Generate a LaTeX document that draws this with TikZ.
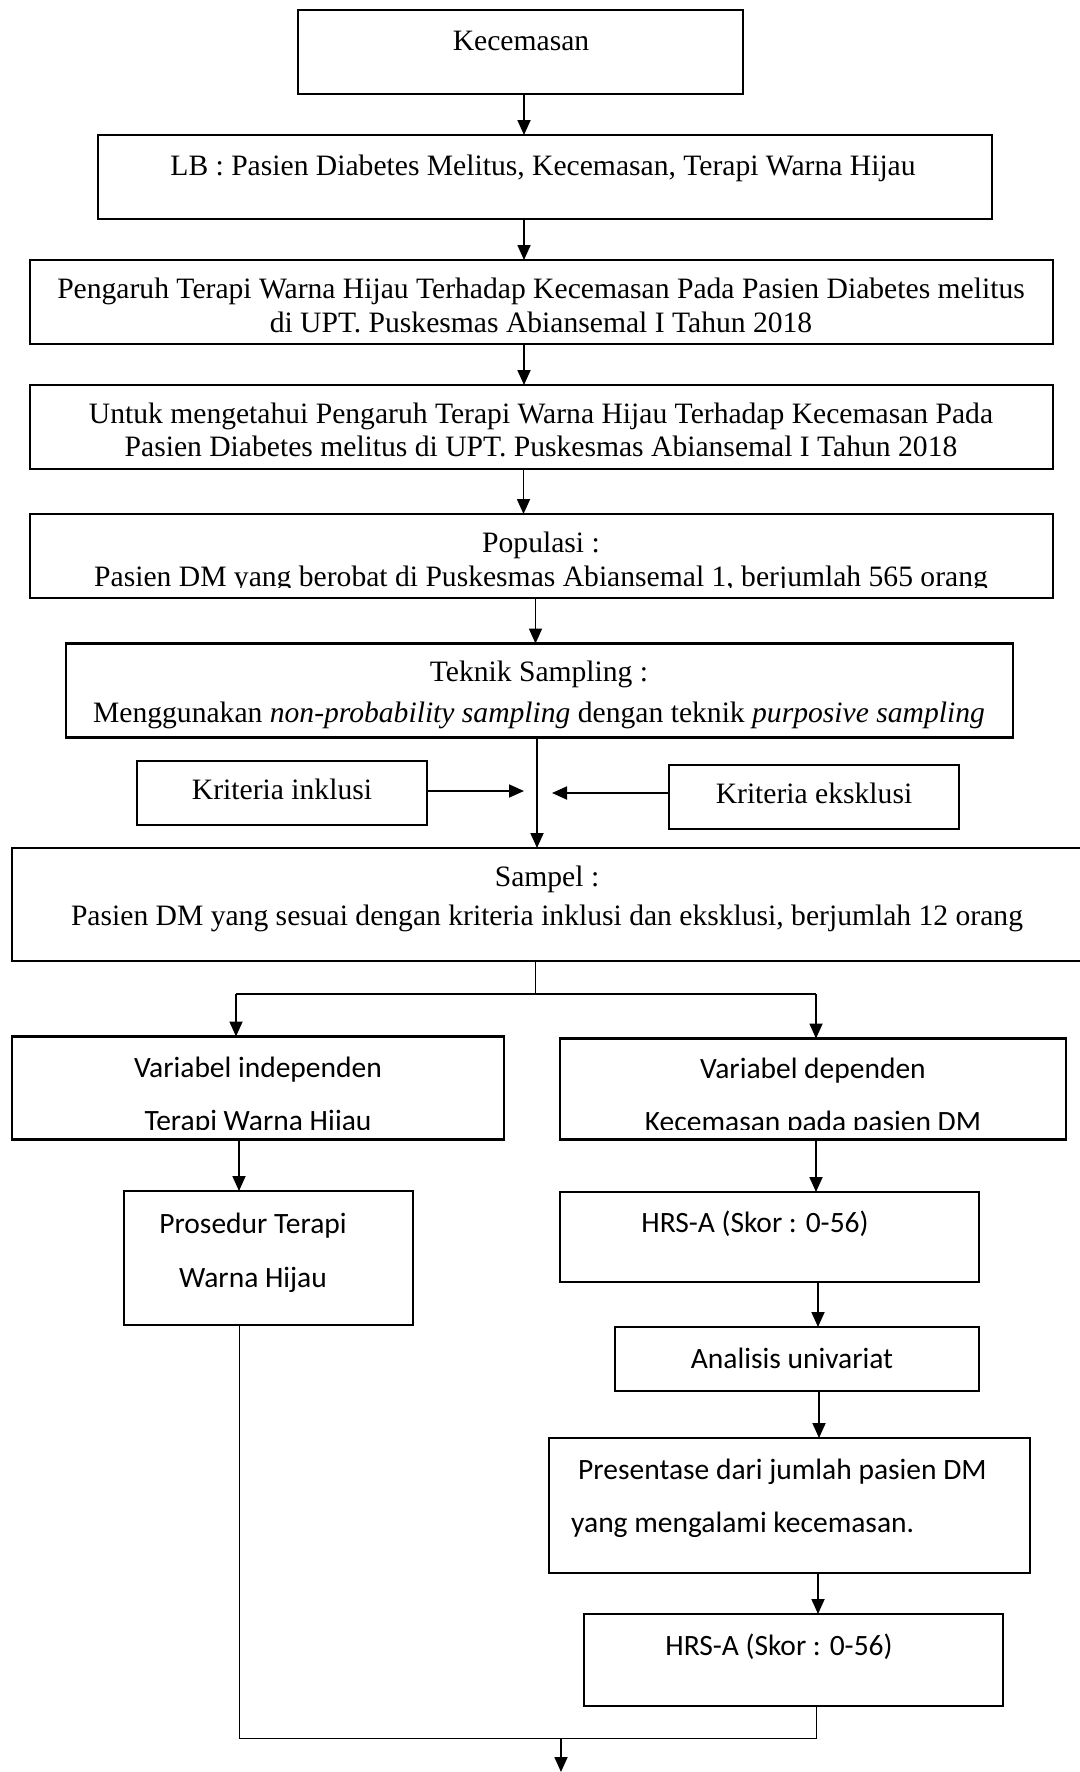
\documentclass[tikz,border=0pt]{standalone}
\usepackage{fontspec}
\setmainfont{Liberation Serif}
\newfontfamily\calfont{Carlito}
\usetikzlibrary{arrows.meta}
\begin{document}
\begin{tikzpicture}[x=1pt,y=-1pt,
  box/.style={draw, line width=2.3pt, inner sep=0pt, outer sep=0pt},
  tr/.style={anchor=base, inner sep=0pt, font=\fontsize{29.6}{34}\selectfont},
  ca/.style={anchor=base, inner sep=0pt, font=\calfont\fontsize{29.5}{34}\selectfont},
  caw/.style={anchor=base west, inner sep=0pt, font=\calfont\fontsize{29.5}{34}\selectfont},
  arr/.style={line width=1.8pt, -{Triangle[length=15pt,width=13pt]}},
  thinline/.style={line width=1pt}]
\useasboundingbox (0,0) rectangle (1079,1772);
\fill[white] (0,0) rectangle (1079,1772);

% boxes
\node[box, minimum width=445, minimum height=84] (kec) at (520.5,52) {};
\node[box, minimum width=894, minimum height=84] (lb) at (545,177) {};
\node[box, minimum width=1023, minimum height=84] (peng) at (541.5,302) {};
\node[box, minimum width=1023, minimum height=84] (untuk) at (541.5,427) {};
\node[box, minimum width=1023, minimum height=84] (pop) at (541.5,556) {};
\node[box, minimum width=947, minimum height=94] (tek) at (539.5,690.5) {};
\node[box, minimum width=290, minimum height=64] (inkl) at (282,793) {};
\node[box, minimum width=290, minimum height=64] (eksk) at (814,797) {};
\node[box, minimum width=1070, minimum height=113] (samp) at (547,904.5) {};
\node[box, minimum width=492, minimum height=103] (indep) at (258,1088) {};
\node[box, minimum width=506, minimum height=101] (dep) at (813,1089) {};
\node[box, minimum width=289, minimum height=134] (pros) at (268.5,1258) {};
\node[box, minimum width=419, minimum height=90] (hrsa) at (769.5,1237) {};
\node[box, minimum width=364, minimum height=64] (anal) at (797,1359) {};
\node[box, minimum width=481, minimum height=135] (pres) at (789.5,1505.5) {};
\node[box, minimum width=419, minimum height=92] (hrsb) at (793.5,1660) {};

% texts
\node[tr] (tkec) at (521,50) {Kecemasan};
\node[tr] (tlb) at (543,175) {LB : Pasien Diabetes Melitus, Kecemasan, Terapi Warna Hijau};
\node[tr] (tpeng1) at (541,298) {Pengaruh Terapi Warna Hijau Terhadap Kecemasan Pada Pasien Diabetes melitus};
\node[tr] (tpeng2) at (541,332) {di UPT. Puskesmas Abiansemal I Tahun 2018};
\node[tr] (tuntuk1) at (541,423) {Untuk mengetahui Pengaruh Terapi Warna Hijau Terhadap Kecemasan Pada};
\node[tr] (tuntuk2) at (541,456) {Pasien Diabetes melitus di UPT. Puskesmas Abiansemal I Tahun 2018};
\node[tr] (tpop1) at (541,552) {Populasi :};
\begin{scope}
\clip (32,560) rectangle (1051,587);
\node[tr] (tpop2) at (541,586) {Pasien DM yang berobat di Puskesmas Abiansemal 1, berjumlah 565 orang};
\end{scope}
\node[tr] (ttek1) at (539,681) {Teknik Sampling :};
\node[tr] (ttek2) at (539,722) {Menggunakan \textit{non-probability sampling} dengan teknik \textit{purposive sampling}};
\node[tr] (tinkl) at (282,799) {Kriteria inklusi};
\node[tr] (teksk) at (814,803) {Kriteria eksklusi};
\node[tr] (tsamp1) at (547,886) {Sampel :};
\node[tr] (tsamp2) at (547,925) {Pasien DM yang sesuai dengan kriteria inklusi dan eksklusi, berjumlah 12 orang};
\node[ca] (tind1) at (258,1077) {Variabel independen};
\node[ca] (tdep1) at (813,1078) {Variabel dependen};
\begin{scope}
\clip (14,1100) rectangle (1064,1129);
\node[ca] (tind2) at (258,1130) {Terapi Warna Hijau};
\node[ca] (tdep2) at (813,1131) {Kecemasan pada pasien DM};
\end{scope}
\node[ca] (tpros1) at (253,1233) {Prosedur Terapi};
\node[ca] (tpros2) at (253,1287) {Warna Hijau};
\node[ca] (thrsa) at (755,1232) {HRS-A (Skor : 0-56)};
\node[ca] (tanal) at (792,1368) {Analisis univariat};
\node[caw] (tpres1) at (578,1479) {Presentase dari jumlah pasien DM};
\node[caw] (tpres2) at (571,1532) {yang mengalami kecemasan.};
\node[ca] (thrsb) at (779,1655) {HRS-A (Skor : 0-56)};

% connectors
\draw[arr] ([xshift=3.5]kec.south) -- ([xshift=3.5]kec.south |- lb.north);
\draw[arr] ([xshift=-21]lb.south) -- ([xshift=-21]lb.south |- peng.north);
\draw[arr] ([xshift=-17.5]peng.south) -- ([xshift=-17.5]peng.south |- untuk.north);
\draw[arr] ([xshift=-18]untuk.south) -- ([xshift=-18]untuk.south |- pop.north);
\draw[arr] ([xshift=-6]pop.south) -- ([xshift=-6]pop.south |- tek.north);
\draw[arr] ([xshift=-2.5]tek.south) -- ([xshift=-2.5]tek.south |- samp.north);
\coordinate (inktip) at (524,791);
\coordinate (ekstip) at (552,793);
\draw[arr] (inkl.east |- inktip) -- (inktip);
\draw[arr] (eksk.west |- ekstip) -- (ekstip);
\coordinate (split) at (535,994);
\draw[thinline] (samp.south -| split) -- (split);
\coordinate (lsplit) at (236,994);
\coordinate (rsplit) at (816,994);
\draw[line width=1.8pt] (lsplit) -- (rsplit);
\draw[arr] (lsplit) -- (lsplit |- indep.north);
\draw[arr] (rsplit) -- (rsplit |- dep.north);
\draw[arr] ([xshift=-19]indep.south) -- ([xshift=-19]indep.south |- pros.north);
\draw[arr] ([xshift=3]dep.south) -- ([xshift=3]dep.south |- hrsa.north);
\draw[arr] ([xshift=48.5]hrsa.south) -- ([xshift=48.5]hrsa.south |- anal.north);
\draw[arr] ([xshift=22]anal.south) -- ([xshift=22]anal.south |- pres.north);
\draw[arr] ([xshift=28.5]pres.south) -- ([xshift=28.5]pres.south |- hrsb.north);
\coordinate (jl) at (239,1738);
\coordinate (jr) at (816,1738);
\coordinate (jm) at (561,1738);
\coordinate (endpt) at (561,1772);
\draw[thinline] ([xshift=-29.5]pros.south) -- (jl) -- (jr) -- (jr |- hrsb.south);
\draw[arr] (jm) -- (endpt);
\end{tikzpicture}
\end{document}
